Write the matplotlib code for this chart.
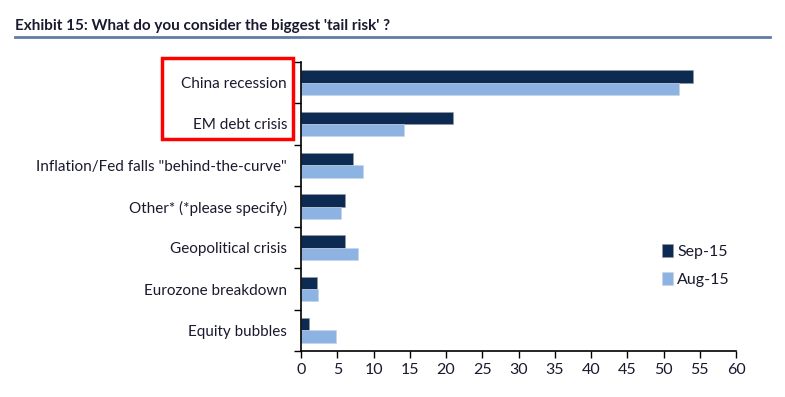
import matplotlib
matplotlib.use('Agg')
import matplotlib.pyplot as plt
import numpy as np
from matplotlib.patches import Rectangle
from matplotlib.lines import Line2D

categories = ['China recession', 'EM debt crisis', 'Inflation/Fed falls "behind-the-curve"',
              'Other* (*please specify)', 'Geopolitical crisis', 'Eurozone breakdown',
              'Equity bubbles']
sep15 = [54.0, 20.9, 7.2, 6.1, 6.1, 2.2, 1.1]
aug15 = [52.1, 14.2, 8.5, 5.5, 7.9, 2.4, 4.8]
xticks = list(range(0, 61, 5))

dark = '#0c2a52'
light = '#8db3e2'
txt = '#1a1a2e'
font = ['Lato', 'DejaVu Sans']

fig = plt.figure(figsize=(7.85, 3.97), dpi=100)
ax = fig.add_axes([301/785, 1-351/397, 435/785, 289/397])

y = np.arange(len(categories))
h = 0.3
ax.barh(y - h/2, sep15, height=h, color=dark, label='Sep-15',
        edgecolor='#9a9a9a', linewidth=0.4)
ax.barh(y + h/2, aug15, height=h, color=light, label='Aug-15',
        edgecolor='#c8d4e4', linewidth=0.4)

ax.set_ylim(len(categories) - 0.5, -0.5)
ax.set_xlim(0, 60)
ax.set_xticks(xticks)
ax.set_xticklabels([str(v) for v in xticks], family=font, fontsize=11.5, color=txt)
ax.set_yticks(y)
ax.set_yticklabels(categories, family=font, fontsize=11, color=txt)
ax.tick_params(axis='y', which='major', length=0, pad=10)
ax.set_yticks(np.arange(-0.5, len(categories)), minor=True)
ax.tick_params(axis='y', which='minor', length=5, direction='out', width=1)
ax.tick_params(axis='x', length=5, direction='out', width=1, pad=4)
for s in ['top', 'right']:
    ax.spines[s].set_visible(False)
for s in ['left', 'bottom']:
    ax.spines[s].set_linewidth(1.2)

leg = ax.legend(loc='upper left', bbox_to_anchor=(0.797, 0.42), frameon=False,
                prop={'family': font, 'size': 11.5}, handlelength=0.7, handleheight=0.9,
                handletextpad=0.25, labelspacing=0.8)
for t in leg.get_texts():
    t.set_color(txt)

fig.text(15/785, 1-26/397, "Exhibit 15: What do you consider the biggest 'tail risk' ?",
         family=font, fontsize=11, fontweight='bold', color=txt, va='center')
fig.add_artist(Line2D([15/785, 770/785], [1-37/397, 1-37/397], color='#5f7ba6', lw=2))
fig.add_artist(Rectangle((162/785, 1-139/397), 131/785, 81/397, fill=False,
                         edgecolor='#ff0000', lw=2.5, transform=fig.transFigure))

fig.savefig('out.png', dpi=100)
